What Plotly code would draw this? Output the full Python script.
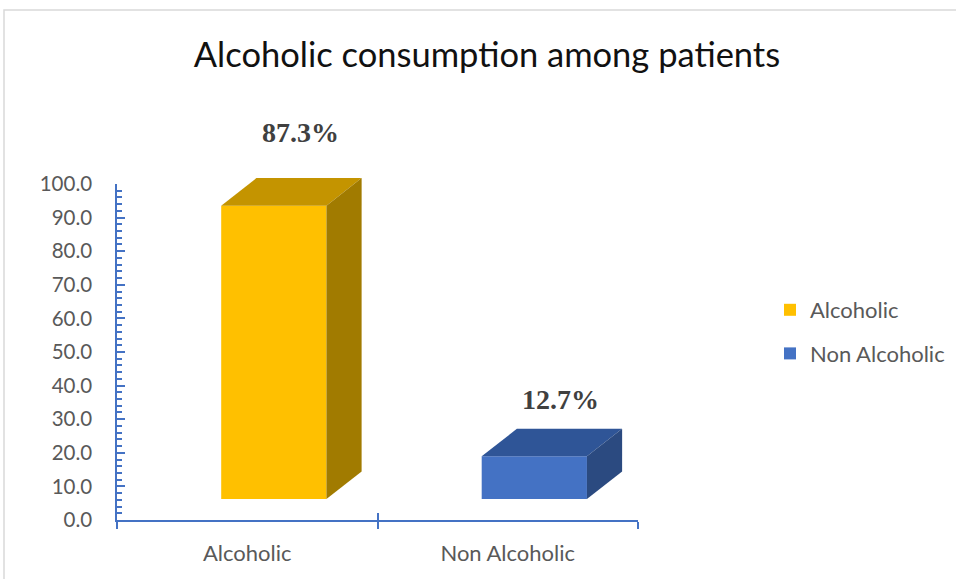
import plotly.graph_objects as go

# ---- data ----
categories = ["Alcoholic", "Non Alcoholic"]
values = [87.3, 12.7]
value_labels = ["87.3%", "12.7%"]

# ---- styling ----
front_colors = ["#FFC000", "#4472C4"]
top_colors = ["#C49400", "#2F5597"]
side_colors = ["#A17B00", "#2B4A80"]
AXIS_COLOR = "#4472C4"
TEXT_COLOR = "#595959"
FONT = "Lato"

FLOOR = 6.25      # 3D floor lift (y units)
DX = 0.135        # depth offset (x units)
DY = 8.2          # depth offset (y units)
OFFSET = -0.1     # bar left edge relative to category centre
WIDTH = 0.404     # bar width (x units)
LABEL_SHIFT = [46, 29]

W, H = 956, 579
ML, MR, MT, MB = 117, 318, 100, 59
plot_w = W - ML - MR
plot_h = H - MT - MB
d = 336 / plot_h          # fraction of plot height used by 0..100

fig = go.Figure()

# empty carrier traces so the visible axes get drawn
fig.add_trace(go.Scatter(x=[None], y=[None], xaxis="x", yaxis="y",
                         showlegend=False, hoverinfo="skip"))
fig.add_trace(go.Scatter(x=[None], y=[None], xaxis="x3", yaxis="y",
                         showlegend=False, hoverinfo="skip"))

for i, cat in enumerate(categories):
    v = values[i]
    x0 = i + OFFSET
    x1 = x0 + WIDTH
    top = FLOOR + v
    fig.add_trace(go.Bar(
        x=[i], y=[v], base=[FLOOR], width=[WIDTH], offset=[OFFSET],
        marker=dict(color=front_colors[i], line=dict(width=0)),
        name=cat, legendgroup=cat, xaxis="x2", yaxis="y2", hoverinfo="skip"))
    # top face
    fig.add_trace(go.Scatter(
        x=[x0, x1, x1 + DX, x0 + DX, x0],
        y=[top, top, top + DY, top + DY, top],
        fill="toself", fillcolor=top_colors[i], mode="lines",
        line=dict(width=0), showlegend=False, hoverinfo="skip",
        xaxis="x2", yaxis="y2"))
    # side face
    fig.add_trace(go.Scatter(
        x=[x1, x1, x1 + DX, x1 + DX, x1],
        y=[FLOOR, top, top + DY, FLOOR + DY, FLOOR],
        fill="toself", fillcolor=side_colors[i], mode="lines",
        line=dict(width=0), showlegend=False, hoverinfo="skip",
        xaxis="x2", yaxis="y2"))
    fig.add_annotation(
        x=i + OFFSET + WIDTH / 2 + DX * 0.75, y=top + DY, xref="x2", yref="y2",
        text=f"<b>{value_labels[i]}</b>", showarrow=False, yanchor="middle",
        yshift=LABEL_SHIFT[i],
        font=dict(family="Liberation Serif", size=28, color="#404040"))

fig.update_layout(
    width=W, height=H,
    margin=dict(l=ML, r=MR, t=MT, b=MB, autoexpand=False),
    paper_bgcolor="white", plot_bgcolor="rgba(0,0,0,0)",
    showlegend=True,
    title=dict(text="Alcoholic consumption among patients",
               x=487 / W, xref="container", xanchor="center",
               y=1 - 55 / H, yref="container", yanchor="middle",
               font=dict(family=FONT, size=34.5, color="#111111")),
    legend=dict(x=(770 - ML) / plot_w, xanchor="left",
                y=(H - MB - 332) / plot_h, yanchor="middle",
                font=dict(family=FONT, size=22, color=TEXT_COLOR),
                tracegroupgap=12, bgcolor="rgba(0,0,0,0)"),
    xaxis=dict(domain=[0, 1], range=[-0.5, 1.5], anchor="y",
               tickmode="array", tickvals=[0, 1], ticktext=categories,
               ticks="", showline=True, linecolor=AXIS_COLOR, linewidth=1.5,
               showgrid=False, zeroline=False, ticklabelstandoff=13,
               tickfont=dict(family=FONT, size=22, color=TEXT_COLOR),
               minor=dict(tickmode="array", tickvals=[-0.5, 0.5, 1.5],
                          ticks="outside", ticklen=7, tickwidth=1.5,
                          tickcolor=AXIS_COLOR, showgrid=False)),
    xaxis3=dict(overlaying="x", anchor="y", range=[-0.5, 1.5],
                tickmode="array", tickvals=[-0.5, 0.5, 1.5],
                ticks="inside", ticklen=7, tickwidth=1.5, tickcolor=AXIS_COLOR,
                showticklabels=False, showline=False, showgrid=False,
                zeroline=False),
    yaxis=dict(domain=[0, d], range=[0, 100], anchor="x",
               tickmode="linear", tick0=0, dtick=10, tickformat=".1f",
               ticks="inside", ticklen=8, tickwidth=1.5, tickcolor=AXIS_COLOR,
               showline=True, linecolor=AXIS_COLOR, linewidth=1.5,
               showgrid=False, zeroline=False, ticklabelstandoff=19,
               tickfont=dict(family=FONT, size=20.5, color=TEXT_COLOR),
               minor=dict(tick0=0, dtick=2, ticks="inside", ticklen=5,
                          tickwidth=1.5, tickcolor=AXIS_COLOR, showgrid=False)),
    xaxis2=dict(domain=[0, 1], range=[-0.5, 1.5], anchor="y2", visible=False),
    yaxis2=dict(domain=[0, 1], range=[0, 100 / d], anchor="x2", visible=False),
    shapes=[dict(type="rect", xref="paper", yref="paper",
                 x0=(4 - ML) / plot_w, x1=(1100 - ML) / plot_w,
                 y0=-0.5, y1=(H - MB - 10) / plot_h,
                 line=dict(color="#D9D9D9", width=1.5), layer="below")],
)

fig.write_html("out.html")
